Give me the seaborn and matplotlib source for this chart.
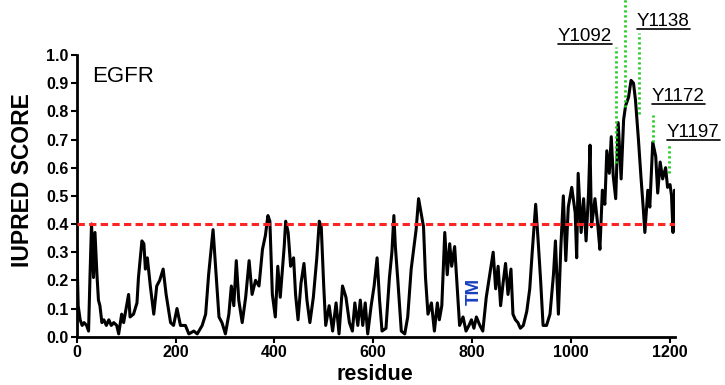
import matplotlib
matplotlib.use("Agg")
import matplotlib.pyplot as plt
import seaborn as sns
from matplotlib.lines import Line2D

# IUPred score along EGFR
residue = [0, 3, 7, 11, 15, 20, 24, 27, 30, 34, 37, 41, 44, 47, 51, 55, 60, 65, 70, 75,
           81, 85, 91, 95, 102, 105, 108, 115, 122, 125, 132, 136, 139, 143, 149, 156, 162, 168, 175, 181,
           190, 196, 203, 210, 220, 227, 237, 244, 254, 261, 267, 276, 281, 288, 294, 301, 308, 313, 318, 323,
           328, 335, 342, 349, 355, 362, 369, 376, 382, 387, 391, 396, 402, 407, 412, 420, 423, 428, 433, 439,
           443, 448, 454, 460, 466, 472, 479, 486, 491, 495, 500, 504, 511, 518, 525, 531, 538, 545, 552, 558,
           563, 569, 574, 579, 584, 589, 596, 602, 608, 613, 618, 626, 633, 638, 642, 645, 650, 657, 664, 670,
           677, 682, 687, 692, 697, 702, 706, 711, 718, 724, 730, 734, 739, 745, 750, 755, 759, 765, 770, 775,
           782, 788, 794, 799, 804, 809, 816, 822, 829, 836, 843, 848, 853, 858, 863, 868, 873, 879, 883, 888,
           893, 898, 904, 911, 917, 922, 929, 934, 939, 944, 951, 958, 965, 969, 975, 980, 985, 990, 995, 1002,
           1009, 1012, 1015, 1021, 1026, 1031, 1036, 1039, 1042, 1049, 1055, 1059, 1064, 1069, 1073, 1078, 1082, 1086, 1091, 1096,
           1102, 1107, 1111, 1117, 1122, 1127, 1131, 1137, 1142, 1147, 1150, 1156, 1160, 1166, 1172, 1176, 1181, 1186, 1192, 1196,
           1201, 1204, 1207, 1210]
score = [0.33, 0.11, 0.06, 0.04, 0.05, 0.04, 0.02, 0.22, 0.40, 0.21, 0.37, 0.22, 0.13, 0.11, 0.05, 0.06, 0.04, 0.06, 0.04, 0.05,
         0.04, 0.01, 0.08, 0.05, 0.12, 0.15, 0.07, 0.08, 0.12, 0.21, 0.34, 0.33, 0.24, 0.28, 0.18, 0.08, 0.18, 0.20, 0.24, 0.15,
         0.05, 0.04, 0.10, 0.04, 0.04, 0.01, 0.02, 0.01, 0.04, 0.08, 0.22, 0.38, 0.25, 0.07, 0.05, 0.01, 0.08, 0.18, 0.11, 0.27,
         0.13, 0.05, 0.14, 0.27, 0.15, 0.20, 0.18, 0.31, 0.36, 0.43, 0.41, 0.15, 0.07, 0.25, 0.14, 0.32, 0.41, 0.37, 0.25, 0.28,
         0.15, 0.06, 0.19, 0.26, 0.13, 0.05, 0.14, 0.28, 0.41, 0.39, 0.18, 0.04, 0.11, 0.02, 0.12, 0.01, 0.18, 0.14, 0.05, 0.02,
         0.12, 0.04, 0.13, 0.04, 0.12, 0.01, 0.11, 0.18, 0.28, 0.13, 0.02, 0.03, 0.21, 0.30, 0.43, 0.32, 0.20, 0.02, 0.01, 0.07,
         0.24, 0.31, 0.38, 0.49, 0.44, 0.39, 0.21, 0.08, 0.12, 0.02, 0.12, 0.06, 0.11, 0.37, 0.22, 0.33, 0.25, 0.32, 0.18, 0.04,
         0.07, 0.02, 0.04, 0.06, 0.03, 0.07, 0.04, 0.02, 0.14, 0.22, 0.30, 0.17, 0.25, 0.11, 0.19, 0.26, 0.15, 0.24, 0.08, 0.06,
         0.05, 0.03, 0.04, 0.09, 0.17, 0.30, 0.47, 0.34, 0.20, 0.04, 0.04, 0.08, 0.22, 0.34, 0.08, 0.32, 0.50, 0.27, 0.46, 0.53,
         0.44, 0.28, 0.58, 0.37, 0.49, 0.34, 0.51, 0.68, 0.39, 0.49, 0.39, 0.31, 0.52, 0.47, 0.66, 0.58, 0.71, 0.57, 0.49, 0.76,
         0.56, 0.77, 0.82, 0.85, 0.91, 0.90, 0.84, 0.70, 0.57, 0.45, 0.37, 0.52, 0.46, 0.69, 0.64, 0.51, 0.62, 0.56, 0.60, 0.53,
         0.54, 0.50, 0.37, 0.52]

threshold = 0.4

# phospho-tyrosine sites: label, residue, bottom score, top score
site_labels = ["Y1092", "", "Y1138", "Y1172", "Y1197"]
site_residue = [1092, 1110, 1138, 1167, 1199]
site_bottom = [0.615, 0.815, 0.79, 0.69, 0.58]
site_top = [1.028, 1.2, 1.078, 0.787, 0.687]
# label anchor (left, baseline) in figure pixels
label_px = [(558, 41), None, (637, 26), (652, 101), (667, 137)]

sns.set_style("ticks")
plt.rcParams["font.family"] = ["Liberation Sans", "DejaVu Sans"]
plt.rcParams["text.color"] = "black"
plt.rcParams["axes.labelcolor"] = "black"
plt.rcParams["xtick.color"] = "black"
plt.rcParams["ytick.color"] = "black"

fig = plt.figure(figsize=(7.25, 3.85), dpi=100)
ax = fig.add_axes([76.7 / 725, 48.3 / 385, 597.8 / 725, 281.7 / 385])

sns.lineplot(x=residue, y=score, color="black", lw=2.2, ax=ax, sort=False)
ax.axhline(threshold, color="#ff2424", lw=2.2, ls=(0, (2.4, 1.4)), zorder=3)

for r, lo, hi in zip(site_residue, site_bottom, site_top):
    ax.plot([r, r], [lo, hi], color="#22cc22", lw=2, ls=(0, (0.8, 1.0)), clip_on=False, zorder=4)

ax.set_xlim(0, 1210)
ax.set_ylim(0, 1.0)
ax.set_xticks(range(0, 1201, 200))
ax.set_yticks([i / 10 for i in range(11)])
ax.set_yticklabels([f"{i / 10:.1f}" for i in range(11)])
for lab in ax.get_xticklabels() + ax.get_yticklabels():
    lab.set_fontweight("bold")
    lab.set_fontsize(11.5)
    lab.set_color("black")
ax.tick_params(length=4, width=1.5, pad=2, colors="black")
sns.despine(ax=ax)
for s in ["left", "bottom"]:
    ax.spines[s].set_linewidth(2)
    ax.spines[s].set_color("black")

ax.set_ylabel("IUPRED SCORE", fontsize=16.5, fontweight="bold", va="center", color="black")
ax.yaxis.set_label_coords(-0.09, 0.556)
ax.set_xlabel("residue", fontsize=15.5, fontweight="bold", va="center", color="black")
ax.xaxis.set_label_coords(0.499, -0.133)

ax.text(0.0256, 0.925, "EGFR", transform=ax.transAxes, fontsize=16, ha="left", va="center",
        color="black")
ax.text(805, 0.162, "TM", color="#1a3fbf", fontsize=13.5, fontweight="bold",
        rotation=90, ha="center", va="center")

texts = []
for lab, pos in zip(site_labels, label_px):
    if pos is None:
        continue
    t = fig.text(pos[0] / 725, 1 - pos[1] / 385, lab, fontsize=13.5, ha="left", va="baseline",
                 color="black")
    texts.append((t, pos[1]))

fig.canvas.draw()
inv = fig.transFigure.inverted()
for t, base in texts:
    bb = t.get_window_extent().transformed(inv)
    yy = 1 - (base + 2.5) / 385
    fig.add_artist(Line2D([bb.x0, bb.x1], [yy, yy], color="black", lw=1.2, transform=fig.transFigure))

fig.savefig("out.png", dpi=100)
